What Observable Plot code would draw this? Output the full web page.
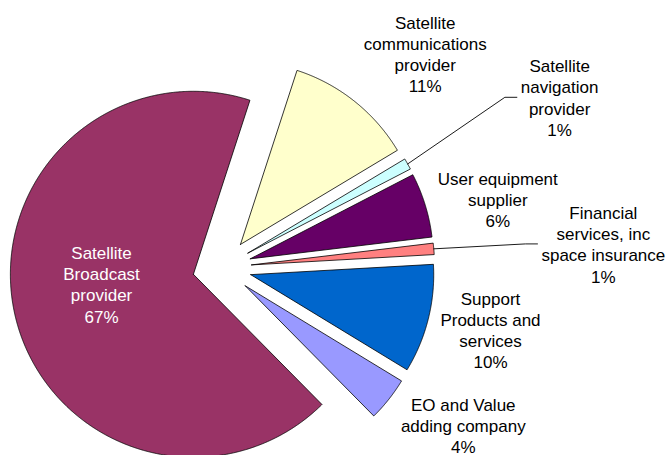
<!DOCTYPE html>
<html><head><meta charset="utf-8">
<script src="https://cdn.jsdelivr.net/npm/d3@7"></script>
<script src="https://cdn.jsdelivr.net/npm/@observablehq/plot@0.6"></script>
<style>html,body{margin:0;padding:0;background:#fff;}</style>
</head><body><div id="chart"></div>
<script>
// ---- data ----
const categories = [
  "Satellite\ncommunications\nprovider",
  "Satellite\nnavigation\nprovider",
  "User equipment\nsupplier",
  "Financial\nservices, inc\nspace insurance",
  "Support\nProducts and\nservices",
  "EO and Value\nadding company",
  "Satellite\nBroadcast\nprovider"
];
const shares = [11.4, 1.0, 5.7, 1.0, 9.6, 3.9, 67.4];
const sliceColors = ["#FFFFCC", "#CCFFFF", "#660066", "#FF8080", "#0066CC", "#9999FF", "#993366"];
const labelColors = ["#000", "#000", "#000", "#000", "#000", "#000", "#fff"];
const hasLeader = [false, true, false, true, false, false, false];

// ---- layout ----
const W = 667, H = 455;
const CX = 221.6, CY = 267, R = 183, EXPLODE = 29.5, START_DEG = 18;
const labelShiftDeg = [5.0, 2.4, 3.2, 1.5, -1.0, -5.2, 5.5];
const labelDist = [295, 378, 284, 382, 275.5, 288, 121.7];
const FONT = "'Liberation Sans', Arial, sans-serif";
const FS = 17;

const rad = Math.PI / 180;
const arcs = d3.pie().sort(null).value(d => d)
  .startAngle(START_DEG * rad).endAngle(START_DEG * rad + 2 * Math.PI)(shares);

const ctx = document.createElement("canvas").getContext("2d");
ctx.font = `${FS}px 'Liberation Sans'`;

const slices = arcs.map((a, i) => {
  const m = (a.startAngle + a.endAngle) / 2;
  const ox = EXPLODE * Math.sin(m), oy = -EXPLODE * Math.cos(m);
  const pts = [{x: ox, y: oy}];
  const n = Math.max(4, Math.ceil((a.endAngle - a.startAngle) / (0.25 * rad)));
  for (let k = 0; k <= n; k++) {
    const t = a.startAngle + (a.endAngle - a.startAngle) * k / n;
    pts.push({x: ox + R * Math.sin(t), y: oy - R * Math.cos(t)});
  }
  pts.push({x: ox, y: oy});
  const la = m + labelShiftDeg[i] * rad;
  const lx = labelDist[i] * Math.sin(la), ly = -labelDist[i] * Math.cos(la);
  const text = categories[i] + "\n" + Math.round(shares[i]) + "%";
  const maxW = d3.max(text.split("\n"), s => ctx.measureText(s).width);
  let leader = null;
  if (hasLeader[i]) {
    const endX = lx - maxW / 2 - 4;
    leader = [
      {x: ox + R * Math.sin(m), y: oy - R * Math.cos(m)},
      {x: endX - 12, y: ly},
      {x: endX, y: ly}
    ];
  }
  return {pts, color: sliceColors[i], label: {x: lx, y: ly, text, fill: labelColors[i]}, leader};
});

const marks = [];
slices.forEach(s => {
  marks.push(Plot.line(s.pts, {x: "x", y: "y", fill: s.color, stroke: "#000", strokeWidth: 0.8, strokeLinejoin: "miter"}));
});
slices.filter(s => s.leader).forEach(s => {
  marks.push(Plot.line(s.leader, {x: "x", y: "y", stroke: "#000", strokeWidth: 0.9}));
});
marks.push(Plot.text(slices.map(s => s.label), {
  x: "x", y: "y", text: "text", fill: "fill",
  fontSize: FS, lineHeight: 1.25, lineAnchor: "middle", textAnchor: "middle", fontFamily: FONT
}));

const chart = Plot.plot({
  width: W, height: H, margin: 0,
  x: {domain: [-CX, W - CX], range: [0, W], axis: null},
  y: {domain: [-CY, H - CY], range: [0, H], axis: null},
  color: {type: "identity"},
  style: {fontFamily: FONT, background: "#fff"},
  marks
});
document.getElementById("chart").appendChild(chart);
</script>
</body></html>
